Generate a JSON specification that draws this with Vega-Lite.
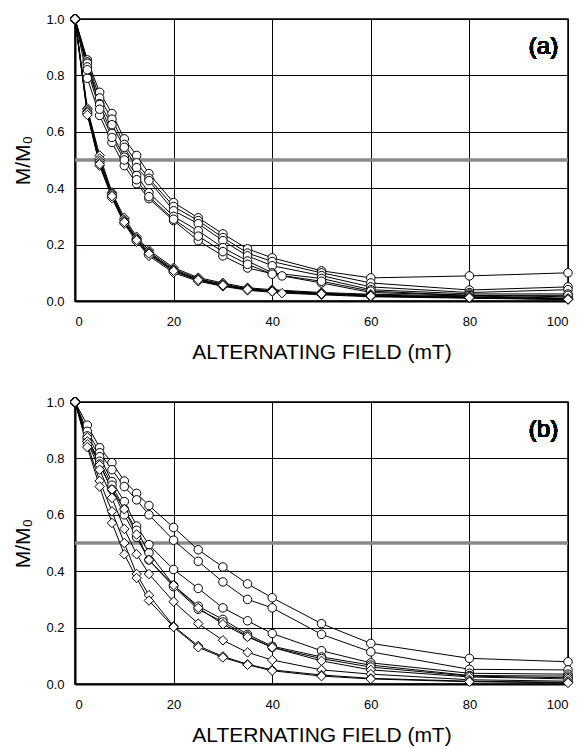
{
  "$schema": "https://vega.github.io/schema/vega-lite/v6.json",
  "padding": {"top": 11, "left": 12, "right": 0, "bottom": 0},
  "background": "white",
  "spacing": 31,
  "config": {
    "font": "Liberation Sans",
    "view": {"stroke": "black", "strokeWidth": 1.5},
    "axis": {
      "labelFont": "Liberation Sans", "titleFont": "Liberation Sans",
      "labelFontSize": 13, "titleFontSize": 21, "titleFontWeight": "normal",
      "labelColor": "black", "titleColor": "black",
      "gridColor": "black", "gridOpacity": 1, "gridWidth": 1,
      "domainColor": "black", "domainWidth": 2,
      "ticks": false
    }
  },
  "datasets": {
    "a": [
      {"s":"C1","k":"circle","h":0,"m":1},{"s":"C1","k":"circle","h":2.5,"m":0.855},{"s":"C1","k":"circle","h":5,"m":0.74},{"s":"C1","k":"circle","h":7.5,"m":0.665},{"s":"C1","k":"circle","h":10,"m":0.575},{"s":"C1","k":"circle","h":12.5,"m":0.516},{"s":"C1","k":"circle","h":15,"m":0.452},{"s":"C1","k":"circle","h":20,"m":0.349},{"s":"C1","k":"circle","h":25,"m":0.295},{"s":"C1","k":"circle","h":30,"m":0.238},{"s":"C1","k":"circle","h":35,"m":0.185},{"s":"C1","k":"circle","h":40,"m":0.153},{"s":"C1","k":"circle","h":50,"m":0.107},{"s":"C1","k":"circle","h":60,"m":0.082},{"s":"C1","k":"circle","h":80,"m":0.089},{"s":"C1","k":"circle","h":100,"m":0.1},
      {"s":"C2","k":"circle","h":0,"m":1},{"s":"C2","k":"circle","h":2.5,"m":0.848},{"s":"C2","k":"circle","h":5,"m":0.72},{"s":"C2","k":"circle","h":7.5,"m":0.645},{"s":"C2","k":"circle","h":10,"m":0.555},{"s":"C2","k":"circle","h":12.5,"m":0.49},{"s":"C2","k":"circle","h":15,"m":0.435},{"s":"C2","k":"circle","h":20,"m":0.335},{"s":"C2","k":"circle","h":25,"m":0.285},{"s":"C2","k":"circle","h":30,"m":0.225},{"s":"C2","k":"circle","h":35,"m":0.17},{"s":"C2","k":"circle","h":40,"m":0.14},{"s":"C2","k":"circle","h":50,"m":0.1},{"s":"C2","k":"circle","h":60,"m":0.064},{"s":"C2","k":"circle","h":80,"m":0.039},{"s":"C2","k":"circle","h":100,"m":0.05},
      {"s":"C3","k":"circle","h":0,"m":1},{"s":"C3","k":"circle","h":2.5,"m":0.843},{"s":"C3","k":"circle","h":5,"m":0.7},{"s":"C3","k":"circle","h":7.5,"m":0.625},{"s":"C3","k":"circle","h":10,"m":0.545},{"s":"C3","k":"circle","h":12.5,"m":0.473},{"s":"C3","k":"circle","h":15,"m":0.427},{"s":"C3","k":"circle","h":20,"m":0.32},{"s":"C3","k":"circle","h":25,"m":0.274},{"s":"C3","k":"circle","h":30,"m":0.214},{"s":"C3","k":"circle","h":35,"m":0.16},{"s":"C3","k":"circle","h":40,"m":0.125},{"s":"C3","k":"circle","h":50,"m":0.09},{"s":"C3","k":"circle","h":60,"m":0.05},{"s":"C3","k":"circle","h":80,"m":0.03},{"s":"C3","k":"circle","h":100,"m":0.04},
      {"s":"C4","k":"circle","h":0,"m":1},{"s":"C4","k":"circle","h":2.5,"m":0.83},{"s":"C4","k":"circle","h":5,"m":0.697},{"s":"C4","k":"circle","h":7.5,"m":0.594},{"s":"C4","k":"circle","h":10,"m":0.51},{"s":"C4","k":"circle","h":12.5,"m":0.445},{"s":"C4","k":"circle","h":15,"m":0.384},{"s":"C4","k":"circle","h":20,"m":0.3},{"s":"C4","k":"circle","h":25,"m":0.249},{"s":"C4","k":"circle","h":30,"m":0.189},{"s":"C4","k":"circle","h":35,"m":0.142},{"s":"C4","k":"circle","h":40,"m":0.1},{"s":"C4","k":"circle","h":50,"m":0.08},{"s":"C4","k":"circle","h":60,"m":0.04},{"s":"C4","k":"circle","h":80,"m":0.025},{"s":"C4","k":"circle","h":100,"m":0.025},
      {"s":"C5","k":"circle","h":0,"m":1},{"s":"C5","k":"circle","h":2.5,"m":0.79},{"s":"C5","k":"circle","h":5,"m":0.658},{"s":"C5","k":"circle","h":7.5,"m":0.562},{"s":"C5","k":"circle","h":10,"m":0.48},{"s":"C5","k":"circle","h":12.5,"m":0.416},{"s":"C5","k":"circle","h":15,"m":0.363},{"s":"C5","k":"circle","h":20,"m":0.285},{"s":"C5","k":"circle","h":25,"m":0.214},{"s":"C5","k":"circle","h":30,"m":0.16},{"s":"C5","k":"circle","h":35,"m":0.117},{"s":"C5","k":"circle","h":42,"m":0.089},{"s":"C5","k":"circle","h":50,"m":0.064},{"s":"C5","k":"circle","h":60,"m":0.03},{"s":"C5","k":"circle","h":80,"m":0.02},{"s":"C5","k":"circle","h":100,"m":0.015},
      {"s":"C6","k":"circle","h":0,"m":1},{"s":"C6","k":"circle","h":2.5,"m":0.82},{"s":"C6","k":"circle","h":5,"m":0.68},{"s":"C6","k":"circle","h":7.5,"m":0.58},{"s":"C6","k":"circle","h":10,"m":0.5},{"s":"C6","k":"circle","h":12.5,"m":0.43},{"s":"C6","k":"circle","h":15,"m":0.37},{"s":"C6","k":"circle","h":20,"m":0.29},{"s":"C6","k":"circle","h":25,"m":0.23},{"s":"C6","k":"circle","h":30,"m":0.175},{"s":"C6","k":"circle","h":35,"m":0.13},{"s":"C6","k":"circle","h":40,"m":0.095},{"s":"C6","k":"circle","h":50,"m":0.07},{"s":"C6","k":"circle","h":60,"m":0.035},{"s":"C6","k":"circle","h":80,"m":0.02},{"s":"C6","k":"circle","h":100,"m":0.02},
      {"s":"D1","k":"diamond","h":0,"m":1},{"s":"D1","k":"diamond","h":2.5,"m":0.683},{"s":"D1","k":"diamond","h":5,"m":0.516},{"s":"D1","k":"diamond","h":7.5,"m":0.385},{"s":"D1","k":"diamond","h":10,"m":0.295},{"s":"D1","k":"diamond","h":12.5,"m":0.228},{"s":"D1","k":"diamond","h":15,"m":0.18},{"s":"D1","k":"diamond","h":20,"m":0.118},{"s":"D1","k":"diamond","h":25,"m":0.083},{"s":"D1","k":"diamond","h":30,"m":0.064},{"s":"D1","k":"diamond","h":35,"m":0.047},{"s":"D1","k":"diamond","h":40,"m":0.04},{"s":"D1","k":"diamond","h":50,"m":0.03},{"s":"D1","k":"diamond","h":60,"m":0.024},{"s":"D1","k":"diamond","h":80,"m":0.018},{"s":"D1","k":"diamond","h":100,"m":0.01},
      {"s":"D2","k":"diamond","h":0,"m":1},{"s":"D2","k":"diamond","h":2.5,"m":0.678},{"s":"D2","k":"diamond","h":5,"m":0.505},{"s":"D2","k":"diamond","h":7.5,"m":0.38},{"s":"D2","k":"diamond","h":10,"m":0.288},{"s":"D2","k":"diamond","h":12.5,"m":0.222},{"s":"D2","k":"diamond","h":15,"m":0.174},{"s":"D2","k":"diamond","h":20,"m":0.113},{"s":"D2","k":"diamond","h":25,"m":0.079},{"s":"D2","k":"diamond","h":30,"m":0.06},{"s":"D2","k":"diamond","h":35,"m":0.044},{"s":"D2","k":"diamond","h":40,"m":0.037},{"s":"D2","k":"diamond","h":50,"m":0.028},{"s":"D2","k":"diamond","h":60,"m":0.021},{"s":"D2","k":"diamond","h":80,"m":0.015},{"s":"D2","k":"diamond","h":100,"m":0.008},
      {"s":"D3","k":"diamond","h":0,"m":1},{"s":"D3","k":"diamond","h":2.5,"m":0.672},{"s":"D3","k":"diamond","h":5,"m":0.497},{"s":"D3","k":"diamond","h":7.5,"m":0.375},{"s":"D3","k":"diamond","h":10,"m":0.283},{"s":"D3","k":"diamond","h":12.5,"m":0.218},{"s":"D3","k":"diamond","h":15,"m":0.17},{"s":"D3","k":"diamond","h":20,"m":0.109},{"s":"D3","k":"diamond","h":25,"m":0.076},{"s":"D3","k":"diamond","h":30,"m":0.057},{"s":"D3","k":"diamond","h":35,"m":0.042},{"s":"D3","k":"diamond","h":40,"m":0.035},{"s":"D3","k":"diamond","h":50,"m":0.026},{"s":"D3","k":"diamond","h":60,"m":0.019},{"s":"D3","k":"diamond","h":80,"m":0.013},{"s":"D3","k":"diamond","h":100,"m":0.007},
      {"s":"D4","k":"diamond","h":0,"m":1},{"s":"D4","k":"diamond","h":2.5,"m":0.665},{"s":"D4","k":"diamond","h":5,"m":0.49},{"s":"D4","k":"diamond","h":7.5,"m":0.37},{"s":"D4","k":"diamond","h":10,"m":0.278},{"s":"D4","k":"diamond","h":12.5,"m":0.214},{"s":"D4","k":"diamond","h":15,"m":0.165},{"s":"D4","k":"diamond","h":20,"m":0.105},{"s":"D4","k":"diamond","h":25,"m":0.073},{"s":"D4","k":"diamond","h":30,"m":0.055},{"s":"D4","k":"diamond","h":35,"m":0.04},{"s":"D4","k":"diamond","h":40,"m":0.033},{"s":"D4","k":"diamond","h":50,"m":0.024},{"s":"D4","k":"diamond","h":60,"m":0.017},{"s":"D4","k":"diamond","h":80,"m":0.011},{"s":"D4","k":"diamond","h":100,"m":0.006},
      {"s":"D5","k":"diamond","h":0,"m":1},{"s":"D5","k":"diamond","h":2.5,"m":0.668},{"s":"D5","k":"diamond","h":5,"m":0.48},{"s":"D5","k":"diamond","h":7.5,"m":0.365},{"s":"D5","k":"diamond","h":10,"m":0.274},{"s":"D5","k":"diamond","h":12.5,"m":0.21},{"s":"D5","k":"diamond","h":15,"m":0.16},{"s":"D5","k":"diamond","h":20,"m":0.1},{"s":"D5","k":"diamond","h":25,"m":0.07},{"s":"D5","k":"diamond","h":30,"m":0.052},{"s":"D5","k":"diamond","h":35,"m":0.038},{"s":"D5","k":"diamond","h":42,"m":0.028},{"s":"D5","k":"diamond","h":50,"m":0.022},{"s":"D5","k":"diamond","h":60,"m":0.015},{"s":"D5","k":"diamond","h":80,"m":0.01},{"s":"D5","k":"diamond","h":100,"m":0.005},
      {"s":"D6","k":"diamond","h":0,"m":1},{"s":"D6","k":"diamond","h":2.5,"m":0.66},{"s":"D6","k":"diamond","h":5,"m":0.485},{"s":"D6","k":"diamond","h":7.5,"m":0.372},{"s":"D6","k":"diamond","h":10,"m":0.28},{"s":"D6","k":"diamond","h":12.5,"m":0.216},{"s":"D6","k":"diamond","h":15,"m":0.168},{"s":"D6","k":"diamond","h":20,"m":0.107},{"s":"D6","k":"diamond","h":25,"m":0.075},{"s":"D6","k":"diamond","h":30,"m":0.056},{"s":"D6","k":"diamond","h":35,"m":0.041},{"s":"D6","k":"diamond","h":40,"m":0.034},{"s":"D6","k":"diamond","h":50,"m":0.025},{"s":"D6","k":"diamond","h":60,"m":0.018},{"s":"D6","k":"diamond","h":80,"m":0.012},{"s":"D6","k":"diamond","h":100,"m":0.006}
    ],
    "b": [
      {"s":"C1","k":"circle","h":0,"m":1},{"s":"C1","k":"circle","h":2.5,"m":0.918},{"s":"C1","k":"circle","h":5,"m":0.838},{"s":"C1","k":"circle","h":7.5,"m":0.785},{"s":"C1","k":"circle","h":10,"m":0.72},{"s":"C1","k":"circle","h":12.5,"m":0.676},{"s":"C1","k":"circle","h":15,"m":0.633},{"s":"C1","k":"circle","h":20,"m":0.555},{"s":"C1","k":"circle","h":25,"m":0.476},{"s":"C1","k":"circle","h":30,"m":0.415},{"s":"C1","k":"circle","h":35,"m":0.355},{"s":"C1","k":"circle","h":40,"m":0.306},{"s":"C1","k":"circle","h":50,"m":0.214},{"s":"C1","k":"circle","h":60,"m":0.144},{"s":"C1","k":"circle","h":80,"m":0.091},{"s":"C1","k":"circle","h":100,"m":0.079},
      {"s":"C2","k":"circle","h":0,"m":1},{"s":"C2","k":"circle","h":2.5,"m":0.896},{"s":"C2","k":"circle","h":5,"m":0.82},{"s":"C2","k":"circle","h":7.5,"m":0.76},{"s":"C2","k":"circle","h":10,"m":0.7},{"s":"C2","k":"circle","h":12.5,"m":0.653},{"s":"C2","k":"circle","h":15,"m":0.6},{"s":"C2","k":"circle","h":20,"m":0.51},{"s":"C2","k":"circle","h":25,"m":0.435},{"s":"C2","k":"circle","h":30,"m":0.362},{"s":"C2","k":"circle","h":35,"m":0.3},{"s":"C2","k":"circle","h":40,"m":0.27},{"s":"C2","k":"circle","h":50,"m":0.176},{"s":"C2","k":"circle","h":60,"m":0.114},{"s":"C2","k":"circle","h":80,"m":0.052},{"s":"C2","k":"circle","h":100,"m":0.05},
      {"s":"C3","k":"circle","h":0,"m":1},{"s":"C3","k":"circle","h":2.5,"m":0.88},{"s":"C3","k":"circle","h":5,"m":0.806},{"s":"C3","k":"circle","h":7.5,"m":0.718},{"s":"C3","k":"circle","h":10,"m":0.647},{"s":"C3","k":"circle","h":12.5,"m":0.56},{"s":"C3","k":"circle","h":15,"m":0.494},{"s":"C3","k":"circle","h":20,"m":0.406},{"s":"C3","k":"circle","h":25,"m":0.339},{"s":"C3","k":"circle","h":30,"m":0.27},{"s":"C3","k":"circle","h":35,"m":0.224},{"s":"C3","k":"circle","h":40,"m":0.179},{"s":"C3","k":"circle","h":50,"m":0.118},{"s":"C3","k":"circle","h":60,"m":0.075},{"s":"C3","k":"circle","h":80,"m":0.038},{"s":"C3","k":"circle","h":100,"m":0.035},
      {"s":"C4","k":"circle","h":0,"m":1},{"s":"C4","k":"circle","h":2.5,"m":0.87},{"s":"C4","k":"circle","h":5,"m":0.79},{"s":"C4","k":"circle","h":7.5,"m":0.705},{"s":"C4","k":"circle","h":10,"m":0.62},{"s":"C4","k":"circle","h":12.5,"m":0.545},{"s":"C4","k":"circle","h":15,"m":0.465},{"s":"C4","k":"circle","h":20,"m":0.35},{"s":"C4","k":"circle","h":25,"m":0.276},{"s":"C4","k":"circle","h":30,"m":0.229},{"s":"C4","k":"circle","h":35,"m":0.176},{"s":"C4","k":"circle","h":40,"m":0.134},{"s":"C4","k":"circle","h":50,"m":0.096},{"s":"C4","k":"circle","h":60,"m":0.067},{"s":"C4","k":"circle","h":80,"m":0.03},{"s":"C4","k":"circle","h":100,"m":0.028},
      {"s":"C5","k":"circle","h":0,"m":1},{"s":"C5","k":"circle","h":2.5,"m":0.86},{"s":"C5","k":"circle","h":5,"m":0.78},{"s":"C5","k":"circle","h":7.5,"m":0.69},{"s":"C5","k":"circle","h":10,"m":0.6},{"s":"C5","k":"circle","h":12.5,"m":0.52},{"s":"C5","k":"circle","h":15,"m":0.44},{"s":"C5","k":"circle","h":20,"m":0.345},{"s":"C5","k":"circle","h":25,"m":0.265},{"s":"C5","k":"circle","h":30,"m":0.22},{"s":"C5","k":"circle","h":35,"m":0.17},{"s":"C5","k":"circle","h":40,"m":0.13},{"s":"C5","k":"circle","h":50,"m":0.09},{"s":"C5","k":"circle","h":60,"m":0.06},{"s":"C5","k":"circle","h":80,"m":0.028},{"s":"C5","k":"circle","h":100,"m":0.022},
      {"s":"D1","k":"diamond","h":0,"m":1},{"s":"D1","k":"diamond","h":2.5,"m":0.875},{"s":"D1","k":"diamond","h":5,"m":0.776},{"s":"D1","k":"diamond","h":7.5,"m":0.69},{"s":"D1","k":"diamond","h":10,"m":0.62},{"s":"D1","k":"diamond","h":12.5,"m":0.53},{"s":"D1","k":"diamond","h":15,"m":0.44},{"s":"D1","k":"diamond","h":20,"m":0.35},{"s":"D1","k":"diamond","h":25,"m":0.27},{"s":"D1","k":"diamond","h":30,"m":0.212},{"s":"D1","k":"diamond","h":35,"m":0.167},{"s":"D1","k":"diamond","h":40,"m":0.13},{"s":"D1","k":"diamond","h":50,"m":0.082},{"s":"D1","k":"diamond","h":60,"m":0.05},{"s":"D1","k":"diamond","h":80,"m":0.025},{"s":"D1","k":"diamond","h":100,"m":0.018},
      {"s":"D2","k":"diamond","h":0,"m":1},{"s":"D2","k":"diamond","h":2.5,"m":0.86},{"s":"D2","k":"diamond","h":5,"m":0.76},{"s":"D2","k":"diamond","h":7.5,"m":0.66},{"s":"D2","k":"diamond","h":10,"m":0.55},{"s":"D2","k":"diamond","h":12.5,"m":0.46},{"s":"D2","k":"diamond","h":15,"m":0.39},{"s":"D2","k":"diamond","h":20,"m":0.292},{"s":"D2","k":"diamond","h":25,"m":0.214},{"s":"D2","k":"diamond","h":30,"m":0.155},{"s":"D2","k":"diamond","h":35,"m":0.112},{"s":"D2","k":"diamond","h":40,"m":0.085},{"s":"D2","k":"diamond","h":50,"m":0.05},{"s":"D2","k":"diamond","h":60,"m":0.035},{"s":"D2","k":"diamond","h":80,"m":0.015},{"s":"D2","k":"diamond","h":100,"m":0.01},
      {"s":"D3","k":"diamond","h":0,"m":1},{"s":"D3","k":"diamond","h":2.5,"m":0.85},{"s":"D3","k":"diamond","h":5,"m":0.72},{"s":"D3","k":"diamond","h":7.5,"m":0.612},{"s":"D3","k":"diamond","h":10,"m":0.5},{"s":"D3","k":"diamond","h":12.5,"m":0.39},{"s":"D3","k":"diamond","h":15,"m":0.315},{"s":"D3","k":"diamond","h":20,"m":0.205},{"s":"D3","k":"diamond","h":25,"m":0.135},{"s":"D3","k":"diamond","h":30,"m":0.098},{"s":"D3","k":"diamond","h":35,"m":0.07},{"s":"D3","k":"diamond","h":40,"m":0.05},{"s":"D3","k":"diamond","h":50,"m":0.032},{"s":"D3","k":"diamond","h":60,"m":0.02},{"s":"D3","k":"diamond","h":80,"m":0.01},{"s":"D3","k":"diamond","h":100,"m":0.006},
      {"s":"D4","k":"diamond","h":0,"m":1},{"s":"D4","k":"diamond","h":2.5,"m":0.84},{"s":"D4","k":"diamond","h":5,"m":0.7},{"s":"D4","k":"diamond","h":7.5,"m":0.571},{"s":"D4","k":"diamond","h":10,"m":0.46},{"s":"D4","k":"diamond","h":12.5,"m":0.376},{"s":"D4","k":"diamond","h":15,"m":0.296},{"s":"D4","k":"diamond","h":20,"m":0.202},{"s":"D4","k":"diamond","h":25,"m":0.13},{"s":"D4","k":"diamond","h":30,"m":0.094},{"s":"D4","k":"diamond","h":35,"m":0.068},{"s":"D4","k":"diamond","h":40,"m":0.047},{"s":"D4","k":"diamond","h":50,"m":0.028},{"s":"D4","k":"diamond","h":60,"m":0.018},{"s":"D4","k":"diamond","h":80,"m":0.008},{"s":"D4","k":"diamond","h":100,"m":0.004}
    ]
  },
  "vconcat": [
    {
      "width": 493, "height": 282,
      "data": {"name": "a"},
      "layer": [
        {"data": {"values": [{"v": 0.5}]}, "mark": {"type": "rule", "color": "#8a8a8a", "strokeWidth": 3.5}, "encoding": {"y": {"field": "v", "type": "quantitative", "scale": {"domain": [0, 1], "nice": false}}}},
        {"mark": {"type": "line", "color": "black", "strokeWidth": 1},
         "encoding": {
           "x": {"field": "h", "type": "quantitative", "scale": {"domain": [0, 100], "nice": false}, "axis": {"values": [0, 20, 40, 60, 80, 100], "title": "ALTERNATING FIELD (mT)", "labelPadding": 14, "titlePadding": 13}},
           "y": {"field": "m", "type": "quantitative", "scale": {"domain": [0, 1], "nice": false}, "axis": {"values": [0, 0.2, 0.4, 0.6, 0.8, 1.0], "format": ".1f", "title": "M/M\u2080", "labelPadding": 11, "titlePadding": 12}},
           "detail": {"field": "s", "type": "nominal"}
         }},
        {"mark": {"type": "point", "filled": true, "fill": "white", "stroke": "black", "strokeWidth": 1, "opacity": 1},
         "encoding": {
           "x": {"field": "h", "type": "quantitative"},
           "y": {"field": "m", "type": "quantitative"},
           "shape": {"field": "k", "type": "nominal", "scale": {"domain": ["circle", "diamond"], "range": ["circle", "diamond"]}, "legend": null},
           "size": {"field": "k", "type": "nominal", "scale": {"domain": ["circle", "diamond"], "range": [72, 90]}, "legend": null}
         }},
        {"mark": {"type": "text", "align": "right", "baseline": "middle", "fontSize": 24, "fontWeight": "normal", "color": "black", "text": "(a)"},
         "encoding": {"x": {"datum": 98}, "y": {"datum": 0.9}}}
      ]
    },
    {
      "width": 493, "height": 282,
      "data": {"name": "b"},
      "layer": [
        {"data": {"values": [{"v": 0.5}]}, "mark": {"type": "rule", "color": "#8a8a8a", "strokeWidth": 3.5}, "encoding": {"y": {"field": "v", "type": "quantitative", "scale": {"domain": [0, 1], "nice": false}}}},
        {"mark": {"type": "line", "color": "black", "strokeWidth": 1},
         "encoding": {
           "x": {"field": "h", "type": "quantitative", "scale": {"domain": [0, 100], "nice": false}, "axis": {"values": [0, 20, 40, 60, 80, 100], "title": "ALTERNATING FIELD (mT)", "labelPadding": 14, "titlePadding": 13}},
           "y": {"field": "m", "type": "quantitative", "scale": {"domain": [0, 1], "nice": false}, "axis": {"values": [0, 0.2, 0.4, 0.6, 0.8, 1.0], "format": ".1f", "title": "M/M\u2080", "labelPadding": 11, "titlePadding": 12}},
           "detail": {"field": "s", "type": "nominal"}
         }},
        {"mark": {"type": "point", "filled": true, "fill": "white", "stroke": "black", "strokeWidth": 1, "opacity": 1},
         "encoding": {
           "x": {"field": "h", "type": "quantitative"},
           "y": {"field": "m", "type": "quantitative"},
           "shape": {"field": "k", "type": "nominal", "scale": {"domain": ["circle", "diamond"], "range": ["circle", "diamond"]}, "legend": null},
           "size": {"field": "k", "type": "nominal", "scale": {"domain": ["circle", "diamond"], "range": [72, 90]}, "legend": null}
         }},
        {"mark": {"type": "text", "align": "right", "baseline": "middle", "fontSize": 24, "fontWeight": "normal", "color": "black", "text": "(b)"},
         "encoding": {"x": {"datum": 98}, "y": {"datum": 0.9}}}
      ]
    }
  ]
}
